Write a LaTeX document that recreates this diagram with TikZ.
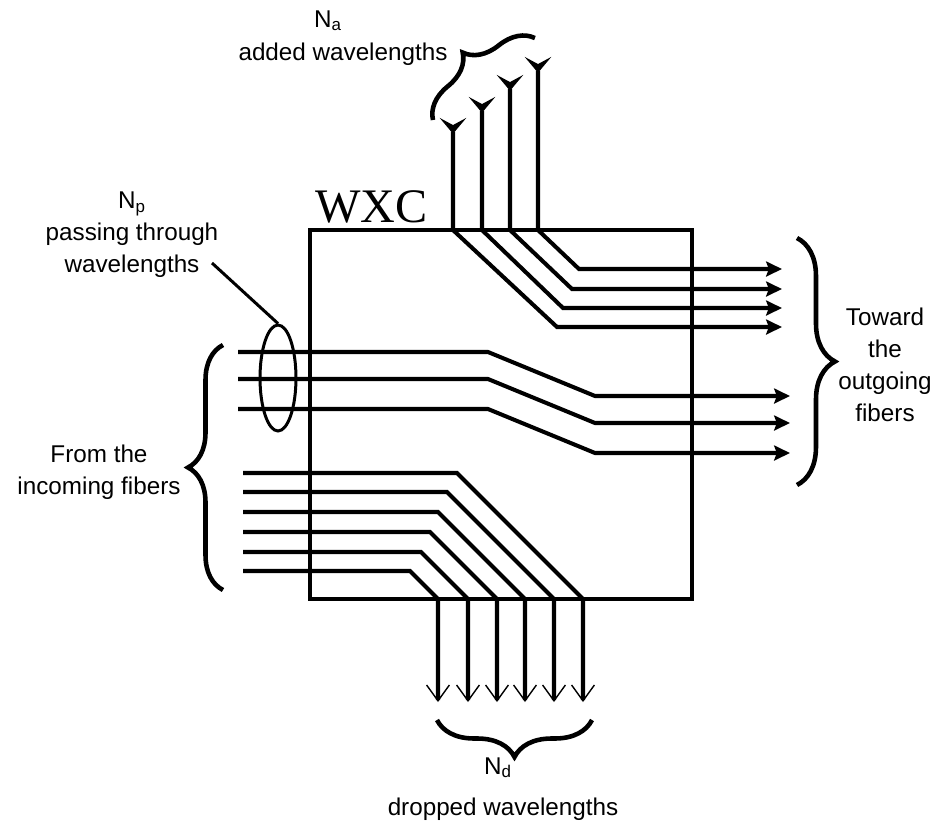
\documentclass[tikz,border=0pt]{standalone}
\usepackage{fontspec}
\setmainfont{Liberation Sans}
\newfontfamily\wxcfont{Liberation Serif}
\usepackage{tikz}
\usetikzlibrary{
    arrows.meta,
    shapes.geometric,
    positioning,
    calc,
    decorations.pathreplacing
}
\tikzstyle{wxcbox} = [
    rectangle,
    draw,
    line width=2.5pt,
    outer sep=0pt,
    inner sep=0pt,
    minimum width=7.64cm,
    minimum height=7.38cm
]
\tikzstyle{fiber} = [
    line width=2.3pt,
    line join=miter
]
\tikzstyle{outarrow} = [
    fiber,
    -{Stealth[length=9pt, width=8.5pt, inset=1.5pt]}
]
\tikzstyle{addarrow} = [
    fiber,
    {Stealth[reversed, length=9pt, width=15pt, inset=4pt]}-{Stealth[length=9pt, width=8.5pt, inset=1.5pt]}
]
\tikzstyle{droparrow} = [
    fiber,
    -{Straight Barb[length=9pt, width=13pt, line width=0.8pt]}
]
\tikzstyle{note} = [
    inner sep=0pt,
    align=center,
    font=\fontsize{13.8}{18.2}\selectfont
]
\tikzset{curly/.style={decorate, decoration={brace, amplitude=#1}, line width=2.6pt}}

\begin{document}
\begin{tikzpicture}[x=0.02cm, y=-0.02cm]
        \useasboundingbox (0,0) rectangle (938,823);

        % Switch
        \node[wxcbox] (wxc) at (501,414.5) {};
        \node[anchor=base west, inner sep=0pt, font=\wxcfont\fontsize{27.4}{30}\selectfont] (wxclabel) at (315,222) {WXC};

        % Added wavelengths
        \foreach \x/\top/\y/\c in {453/118/327/557, 482/97/308/563, 510/75/289/572, 538/57/269/579}
            \draw[addarrow] (\x,\top) -- (\x,0 |- wxc.north) -- (\c,\y) -- (782,\y);

        % Passing through wavelengths
        \foreach \y in {352,379,409}
            \draw[outarrow] (238,\y) -- (488,\y) -- (595,\y+44) -- (790,\y+44);

        % Dropped wavelengths
        \foreach \y/\x in {473/583, 492/554, 512/525, 532/497, 552/468, 571/438}
            \draw[droparrow] (243,\y) -- (\x-599+\y,\y) -- (\x,0 |- wxc.south) -- (\x,702);

        % Bundle of passing wavelengths
        \node[draw, ellipse, line width=1.7pt, inner sep=0pt, minimum width=0.72cm, minimum height=2.12cm] (bundle) at (278,378) {};
        \coordinate (ptr) at (212,263);
        \draw[line width=1.7pt] (ptr) -- (bundle.north);

        % Braces
        \draw[curly=0.7cm] (223,590) -- (223,345);
        \draw[curly=0.76cm] (797,238) -- (797,485);
        \draw[curly=0.74cm] (592,720) -- (437,720);
        \draw[curly=0.68cm] (433,120) -- (535,38);

        % Labels
        \node[note, anchor=base] (na) at (328,27) {N\textsubscript{a}};
        \node[note, anchor=base] (added) at (343,60) {added wavelengths};
        \node[note] (np) at (132,235) {N\textsubscript{p}\\passing through\\wavelengths};
        \node[note] (incoming) at (99,472) {From the\\incoming fibers};
        \node[note] (outgoing) at (885,365) {Toward\\the\\outgoing\\fibers};
        \node[note, anchor=base] (nd) at (498,774) {N\textsubscript{d}};
        \node[note, anchor=base] (dropped) at (503,815) {dropped wavelengths};
    \end{tikzpicture}
\end{document}
